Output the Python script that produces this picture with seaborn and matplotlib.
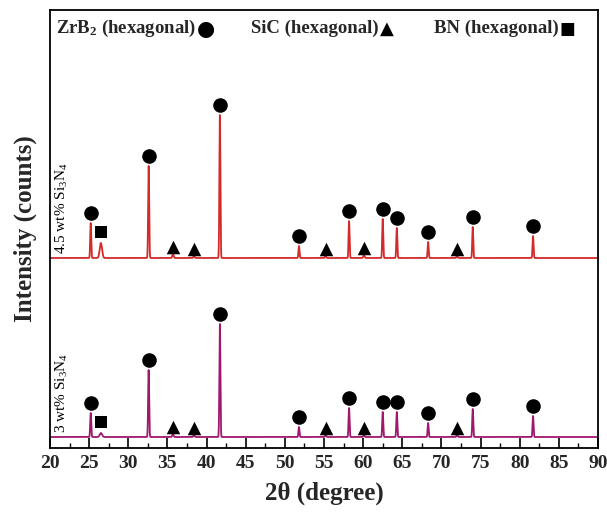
import numpy as np
import pandas as pd
import matplotlib
matplotlib.use("Agg")
import matplotlib.pyplot as plt
import seaborn as sns
from matplotlib.ticker import MultipleLocator

# ---- data ----
peak_pos = [25.2, 26.5, 32.6, 35.7, 38.4, 41.7, 51.8, 55.2, 58.2, 60.1, 62.5, 64.3, 68.3, 72.0, 74.0, 81.7]
peak_phase = ["ZrB2", "BN", "ZrB2", "SiC", "SiC", "ZrB2", "ZrB2", "SiC", "ZrB2", "SiC", "ZrB2", "ZrB2", "ZrB2", "SiC", "ZrB2", "ZrB2"]
peak_fwhm = [0.15, 0.35, 0.15, 0.2, 0.2, 0.15, 0.15, 0.2, 0.15, 0.2, 0.15, 0.15, 0.15, 0.2, 0.15, 0.15]
int_45 = [35, 15, 92, 4, 2, 143, 12, 2, 37, 3, 39, 30, 16, 2, 31, 22]
int_30 = [24, 4, 67, 3, 2, 113, 10, 2, 29, 2, 25, 25, 14, 2, 28, 21]
baseline_45 = 190
baseline_30 = 11
sample_labels = ["4.5 wt% Si$_3$N$_4$", "3 wt% Si$_3$N$_4$"]
legend_labels = ["ZrB$_\\mathbf{2}$ (hexagonal)", "SiC (hexagonal)", "BN (hexagonal)"]
legend_glyphs = ["\u25cf", "\u25b2", "\u25a0"]
xticks = [20, 25, 30, 35, 40, 45, 50, 55, 60, 65, 70, 75, 80, 85, 90]

sns.set_theme(style="white")
plt.rcParams["font.family"] = ["Liberation Serif", "DejaVu Sans"]
plt.rcParams["mathtext.fontset"] = "custom"
plt.rcParams["mathtext.rm"] = "Liberation Serif"
plt.rcParams["mathtext.bf"] = "Liberation Serif:bold"
plt.rcParams["mathtext.default"] = "rm"

fig = plt.figure(figsize=(6.07, 5.16), dpi=100)
ax = fig.add_axes([50 / 607, 1 - 448 / 516, 548 / 607, 438 / 516])

x = np.arange(20, 90.001, 0.01)


def profile(ints, base):
    y = np.full_like(x, float(base))
    for c, h, w in zip(peak_pos, ints, peak_fwhm):
        y += h * np.exp(-4 * np.log(2) * (x - c) ** 2 / w ** 2)
    return y


colors = ["#d42a2a", "#a0176e"]
for ints, base, col in [(int_45, baseline_45, colors[0]), (int_30, baseline_30, colors[1])]:
    df = pd.DataFrame({"x": x, "y": profile(ints, base)})
    sns.lineplot(data=df, x="x", y="y", ax=ax, color=col, lw=1.3, estimator=None)

marker_style = {"ZrB2": ("o", 110, 10), "SiC": ("^", 95, 7), "BN": ("s", 75, 11)}
for ints, base in [(int_45, baseline_45), (int_30, baseline_30)]:
    for phase, (m, s, gap) in marker_style.items():
        mx = [p for p, ph in zip(peak_pos, peak_phase) if ph == phase]
        my = [base + h + gap for h, ph in zip(ints, peak_phase) if ph == phase]
        sns.scatterplot(x=mx, y=my, ax=ax, marker=m, s=s, color="black",
                        edgecolor="black", linewidth=0, zorder=5)

# sample labels
ax.text(21.55, baseline_45 + 4, sample_labels[0], rotation=90, ha="center", va="bottom",
        fontsize=11, color="black")
ax.text(21.55, baseline_30 + 4, sample_labels[1], rotation=90, ha="center", va="bottom",
        fontsize=11, color="black")

# legend row
leg_x = [20.8, 45.7, 69.0]
glyph_size = [15, 13, 12]
for lx, lab, gl, gs in zip(leg_x, legend_labels, legend_glyphs, glyph_size):
    t = ax.text(lx, 420, lab, fontsize=13.5, fontweight="bold", ha="left", va="center")
    ax.annotate(gl, xy=(1, 0.45), xycoords=t, xytext=(0.5, 0), textcoords="offset points",
                ha="left", va="center", fontsize=gs, family="DejaVu Sans", color="black")

ax.set_xlim(20, 90)
ax.set_ylim(0, 438)
ax.set_xticks(xticks)
ax.xaxis.set_minor_locator(MultipleLocator(2.5))
ax.set_yticks([])
ax.tick_params(axis="x", which="major", direction="in", length=7, width=1.2,
               labelsize=14, pad=5, bottom=True, top=False, color="black")
ax.tick_params(axis="x", which="minor", direction="in", length=3.5, width=1.0,
               bottom=True, top=False, color="black")
for lbl in ax.get_xticklabels():
    lbl.set_fontweight("bold")
for sp in ax.spines.values():
    sp.set_color("black")
    sp.set_linewidth(1.3)

ax.set_xlabel("2\u03b8 (degree)", fontsize=18, fontweight="bold", labelpad=7)
ax.set_ylabel("Intensity (counts)", fontsize=18, fontweight="bold", labelpad=9)

fig.savefig("out.png", dpi=100)
